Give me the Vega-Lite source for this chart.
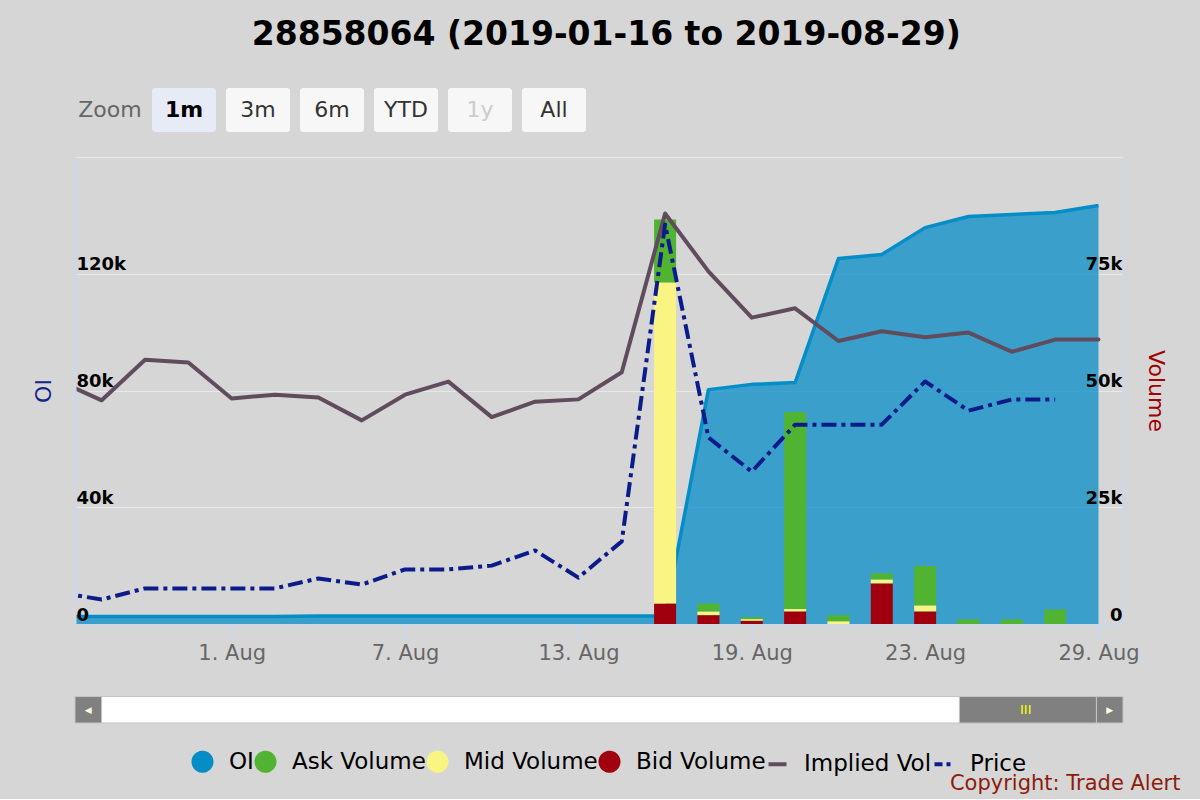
{
  "$schema": "https://vega.github.io/schema/vega-lite/v6.json",
  "background": "#d6d6d6",
  "padding": {"top": 19, "left": 32, "right": 20, "bottom": 5},
  "title": {
    "text": "28858064 (2019-01-16 to 2019-08-29)",
    "fontSize": 33,
    "fontWeight": "bold",
    "color": "#000000",
    "anchor": "middle",
    "offset": 36
  },
  "config": {
    "font": "DejaVu Sans",
    "view": {"stroke": null}
  },
  "datasets": {
    "buttons": [
      {"b": "Zoom"}, {"b": "1m"}, {"b": "3m"}, {"b": "6m"}, {"b": "YTD"}, {"b": "1y"}, {"b": "All"}
    ],
    "days": [
      {"i": -4, "d": "2019-07-26", "oi": 2600, "iv": 52.1, "price": 0.108},
      {"i": -3, "d": "2019-07-29", "oi": 2600, "iv": 47.9, "price": 0.084},
      {"i": -2, "d": "2019-07-30", "oi": 2600, "iv": 56.6, "price": 0.122},
      {"i": -1, "d": "2019-07-31", "oi": 2600, "iv": 56.0, "price": 0.122},
      {"i": 0, "d": "2019-08-01", "oi": 2600, "iv": 48.3, "price": 0.122},
      {"i": 1, "d": "2019-08-02", "oi": 2600, "iv": 49.1, "price": 0.122},
      {"i": 2, "d": "2019-08-05", "oi": 2700, "iv": 48.5, "price": 0.156},
      {"i": 3, "d": "2019-08-06", "oi": 2700, "iv": 43.6, "price": 0.135},
      {"i": 4, "d": "2019-08-07", "oi": 2700, "iv": 49.1, "price": 0.187},
      {"i": 5, "d": "2019-08-08", "oi": 2700, "iv": 51.9, "price": 0.187},
      {"i": 6, "d": "2019-08-09", "oi": 2700, "iv": 44.3, "price": 0.200},
      {"i": 7, "d": "2019-08-12", "oi": 2700, "iv": 47.6, "price": 0.252},
      {"i": 8, "d": "2019-08-13", "oi": 2700, "iv": 48.1, "price": 0.159},
      {"i": 9, "d": "2019-08-14", "oi": 2700, "iv": 53.9, "price": 0.283},
      {"i": 10, "d": "2019-08-15", "oi": 2700, "iv": 87.9, "price": 1.369},
      {"i": 11, "d": "2019-08-16", "oi": 80300, "iv": 75.5, "price": 0.639},
      {"i": 12, "d": "2019-08-19", "oi": 82100, "iv": 65.6, "price": 0.522},
      {"i": 13, "d": "2019-08-20", "oi": 82700, "iv": 67.6, "price": 0.683},
      {"i": 14, "d": "2019-08-21", "oi": 125200, "iv": 60.6, "price": 0.683},
      {"i": 15, "d": "2019-08-22", "oi": 126600, "iv": 62.7, "price": 0.683},
      {"i": 16, "d": "2019-08-23", "oi": 135800, "iv": 61.4, "price": 0.831},
      {"i": 17, "d": "2019-08-26", "oi": 139600, "iv": 62.4, "price": 0.731},
      {"i": 18, "d": "2019-08-27", "oi": 140300, "iv": 58.3, "price": 0.769},
      {"i": 19, "d": "2019-08-28", "oi": 141000, "iv": 60.9, "price": 0.769},
      {"i": 20, "d": "2019-08-29", "oi": 143400, "iv": 60.9, "price": null}
    ],
    "volume": [
      {"i": 10, "type": "Bid Volume", "v": 4400},
      {"i": 10, "type": "Mid Volume", "v": 68700},
      {"i": 10, "type": "Ask Volume", "v": 13500},
      {"i": 11, "type": "Bid Volume", "v": 1900},
      {"i": 11, "type": "Mid Volume", "v": 800},
      {"i": 11, "type": "Ask Volume", "v": 1700},
      {"i": 12, "type": "Bid Volume", "v": 700},
      {"i": 12, "type": "Mid Volume", "v": 350},
      {"i": 12, "type": "Ask Volume", "v": 400},
      {"i": 13, "type": "Bid Volume", "v": 2700},
      {"i": 13, "type": "Mid Volume", "v": 500},
      {"i": 13, "type": "Ask Volume", "v": 42200},
      {"i": 14, "type": "Mid Volume", "v": 600},
      {"i": 14, "type": "Ask Volume", "v": 1300},
      {"i": 15, "type": "Bid Volume", "v": 8700},
      {"i": 15, "type": "Mid Volume", "v": 850},
      {"i": 15, "type": "Ask Volume", "v": 1300},
      {"i": 16, "type": "Bid Volume", "v": 2700},
      {"i": 16, "type": "Mid Volume", "v": 1300},
      {"i": 16, "type": "Ask Volume", "v": 8400},
      {"i": 17, "type": "Ask Volume", "v": 1000},
      {"i": 18, "type": "Ask Volume", "v": 1000},
      {"i": 19, "type": "Ask Volume", "v": 3100}
    ],
    "scroll": [
      {"part": "track", "from": "2019-01-16", "to": "2019-08-29", "mid": "2019-05-08"},
      {"part": "thumb", "from": "2019-07-29", "to": "2019-08-29", "mid": "2019-08-13"},
      {"part": "left", "from": "2019-01-10", "to": "2019-01-16", "mid": "2019-01-13"},
      {"part": "right", "from": "2019-08-29", "to": "2019-09-04", "mid": "2019-09-01"}
    ],
    "credits": [
      {"credit": "Copyright: Trade Alert", "at": "2019-09-17"}
    ]
  },
  "bounds": "flush",
  "spacing": 25,
  "resolve": {"scale": {"color": "independent"}, "legend": {"color": "independent"}},
  "vconcat": [
    {
      "width": 514,
      "height": 44,
      "data": {"name": "buttons"},
      "encoding": {
        "x": {
          "field": "b",
          "type": "nominal",
          "scale": {
            "domain": ["Zoom", "1m", "3m", "6m", "YTD", "1y", "All"],
            "paddingInner": 0.135,
            "paddingOuter": 0.0405
          },
          "axis": null
        }
      },
      "layer": [
        {
          "transform": [{"filter": "datum.b !== 'Zoom'"}],
          "mark": {"type": "rect", "cornerRadius": 3},
          "encoding": {
            "color": {
              "condition": {"test": "datum.b === '1m'", "value": "#e6ebf5"},
              "value": "#f7f7f7"
            }
          }
        },
        {
          "transform": [{"filter": "datum.b !== '1m'"}],
          "mark": {"type": "text", "fontSize": 22},
          "encoding": {
            "text": {"field": "b"},
            "color": {
              "condition": [
                {"test": "datum.b === 'Zoom'", "value": "#666666"},
                {"test": "datum.b === '1y'", "value": "#cccccc"}
              ],
              "value": "#333333"
            }
          }
        },
        {
          "transform": [{"filter": "datum.b === '1m'"}],
          "mark": {"type": "text", "fontSize": 22, "fontWeight": "bold", "color": "#000000"},
          "encoding": {"text": {"field": "b"}}
        }
      ]
    },
    {
      "width": 1048,
      "height": 467,
      "encoding": {
        "x": {
          "field": "i",
          "type": "quantitative",
          "scale": {"domain": [-3.5, 20.45], "nice": false, "zero": false},
          "axis": {
            "title": null,
            "values": [0, 4, 8, 12, 16, 20],
            "labelExpr": "['1. Aug', '7. Aug', '13. Aug', '19. Aug', '23. Aug', '29. Aug'][datum.value / 4]",
            "labelFontSize": 21,
            "labelColor": "#666666",
            "labelPadding": 4,
            "labelFlush": false,
            "tickColor": "#ccd6eb",
            "tickSize": 14,
            "tickWidth": 2,
            "domainColor": "#ccd6eb",
            "domainWidth": 2,
            "grid": false
          }
        }
      },
      "layer": [
        {
          "data": {"name": "days"},
          "mark": {
            "type": "area",
            "clip": true,
            "fillOpacity": 0.75,
            "line": {"strokeWidth": 3.5, "strokeJoin": "round"}
          },
          "encoding": {
            "y": {
              "field": "oi",
              "type": "quantitative",
              "scale": {"domain": [0, 160000], "nice": false},
              "axis": {
                "orient": "left",
                "title": "OI",
                "titleColor": "#14248a",
                "titleFontSize": 22,
                "titleFontWeight": "normal",
                "titleX": -32,
                "titleY": 233.5,
                "titleAngle": -90,
                "titleAlign": "center",
                "titleBaseline": "middle",
                "values": [0, 40000, 80000, 120000],
                "labelExpr": "datum.value === 0 ? '0' : (datum.value / 1000) + 'k'",
                "labelAlign": "left",
                "labelBaseline": "alphabetic",
                "labelPadding": -1,
                "labelOffset": -4,
                "labelFontSize": 18,
                "labelFontWeight": "bold",
                "labelColor": "#000000",
                "ticks": false,
                "domainColor": "#ccd6eb",
                "domainWidth": 2,
                "grid": false,
                "zindex": 1
              }
            },
            "color": {
              "datum": "OI",
              "scale": {
                "domain": ["OI", "Ask Volume", "Mid Volume", "Bid Volume", "Implied Vol", "Price"],
                "range": ["#058dc7", "#50b432", "#faf582", "#a0000e", "#604c5c", "#0b1c8a"]
              },
              "legend": {
                "orient": "none",
                "legendX": 116,
                "legendY": 593,
                "direction": "horizontal",
                "title": null,
                "padding": 0,
                "labelFontSize": 23,
                "labelColor": "#000000",
                "labelOffset": 15,
                "labelLimit": 400,
                "columnPadding": -7,
                "symbolSize": 324,
                "encode": {
                  "symbols": {
                    "update": {
                      "shape": {"signal": "datum.value === 'Implied Vol' || datum.value === 'Price' ? 'stroke' : 'circle'"},
                      "fill": {"signal": "datum.value === 'OI' ? '#058dc7' : datum.value === 'Ask Volume' ? '#50b432' : datum.value === 'Mid Volume' ? '#faf582' : datum.value === 'Bid Volume' ? '#a0000e' : 'transparent'"},
                      "stroke": {"signal": "datum.value === 'Implied Vol' ? '#604c5c' : datum.value === 'Price' ? '#0b1c8a' : 'transparent'"},
                      "strokeWidth": {"value": 4},
                      "strokeDash": {"signal": "datum.value === 'Price' ? [8, 4, 4, 4] : [1, 0]"},
                      "opacity": {"value": 1}
                    }
                  }
                }
              }
            }
          }
        },
        {
          "data": {"name": "volume"},
          "transform": [
            {"calculate": "indexof(['Bid Volume', 'Mid Volume', 'Ask Volume'], datum.type)", "as": "rank"}
          ],
          "mark": {"type": "bar", "width": 22, "clip": true},
          "encoding": {
            "y": {
              "field": "v",
              "type": "quantitative",
              "stack": "zero",
              "scale": {"domain": [0, 100000], "nice": false},
              "axis": {
                "orient": "right",
                "title": "Volume",
                "titleColor": "#a00000",
                "titleFontSize": 22,
                "titleFontWeight": "normal",
                "titleX": 32,
                "titleY": 233.5,
                "titleAngle": 90,
                "titleAlign": "center",
                "titleBaseline": "middle",
                "values": [0, 25000, 50000, 75000],
                "labelExpr": "datum.value === 0 ? '0' : (datum.value / 1000) + 'k'",
                "labelAlign": "right",
                "labelBaseline": "alphabetic",
                "labelPadding": -1,
                "labelOffset": -4,
                "labelFontSize": 18,
                "labelFontWeight": "bold",
                "labelColor": "#000000",
                "ticks": false,
                "domainColor": "#ccd6eb",
                "domainWidth": 2,
                "grid": false,
                "zindex": 1
              }
            },
            "color": {"field": "type", "type": "nominal", "title": null},
            "order": {"field": "rank", "type": "quantitative"}
          }
        },
        {
          "data": {"name": "days"},
          "mark": {"type": "line", "clip": true, "strokeWidth": 4, "strokeJoin": "round", "strokeCap": "round"},
          "encoding": {
            "y": {
              "field": "iv",
              "type": "quantitative",
              "scale": {"domain": [0, 100], "nice": false},
              "axis": {
                "orient": "left",
                "title": null,
                "values": [0, 25, 50, 75, 100],
                "labels": false,
                "ticks": false,
                "domain": false,
                "grid": true,
                "gridColor": "#e8e8e8",
                "gridWidth": 1,
                "zindex": 0
              }
            },
            "color": {"datum": "Implied Vol"}
          }
        },
        {
          "data": {"name": "days"},
          "mark": {"type": "line", "clip": true, "strokeWidth": 4, "strokeJoin": "round", "strokeDash": [15, 5, 4, 5]},
          "encoding": {
            "y": {
              "field": "price",
              "type": "quantitative",
              "scale": {"domain": [0, 1.6], "nice": false},
              "axis": null
            },
            "color": {"datum": "Price"}
          }
        }
      ],
      "resolve": {"scale": {"y": "independent"}}
    },
    {
      "width": 1048,
      "height": 74,
      "layer": [
        {
          "data": {"name": "scroll"},
          "mark": {"type": "rect", "stroke": "#c4c4c4", "strokeWidth": 1},
          "encoding": {
            "x": {
              "field": "from",
              "type": "temporal",
              "scale": {"domain": ["2019-01-10", "2019-09-04"]},
              "axis": null
            },
            "x2": {"field": "to"},
            "y": {
              "datum": 0,
              "type": "quantitative",
              "scale": {"domain": [0, 2.643]},
              "axis": null
            },
            "y2": {"datum": 1},
            "color": {
              "field": "part",
              "type": "nominal",
              "scale": {"domain": ["track", "thumb", "left", "right"], "range": ["#ffffff", "#808080", "#808080", "#808080"]},
              "legend": null
            }
          }
        },
        {
          "data": {"name": "scroll"},
          "transform": [{"filter": "datum.part === 'thumb'"}],
          "mark": {"type": "text", "text": "III", "fontSize": 13, "color": "#ffff00"},
          "encoding": {
            "x": {"field": "mid", "type": "temporal"},
            "y": {"datum": 0.5, "type": "quantitative"}
          }
        },
        {
          "data": {"name": "scroll"},
          "transform": [{"filter": "datum.part === 'left'"}],
          "mark": {"type": "text", "text": "◀", "fontSize": 9, "color": "#fffbe0"},
          "encoding": {
            "x": {"field": "mid", "type": "temporal"},
            "y": {"datum": 0.5, "type": "quantitative"}
          }
        },
        {
          "data": {"name": "scroll"},
          "transform": [{"filter": "datum.part === 'right'"}],
          "mark": {"type": "text", "text": "▶", "fontSize": 9, "color": "#fffbe0"},
          "encoding": {
            "x": {"field": "mid", "type": "temporal"},
            "y": {"datum": 0.5, "type": "quantitative"}
          }
        },
        {
          "data": {"name": "credits"},
          "mark": {"type": "text", "align": "right", "baseline": "middle", "fontSize": 21, "color": "#8c1c0c"},
          "encoding": {
            "text": {"field": "credit"},
            "x": {"field": "at", "type": "temporal"},
            "y": {"datum": -2.3, "type": "quantitative"}
          }
        }
      ]
    }
  ]
}
